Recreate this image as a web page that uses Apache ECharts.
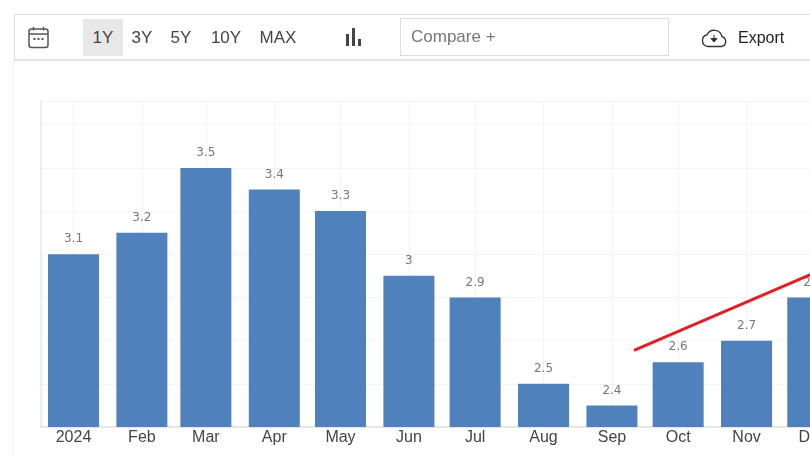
<!DOCTYPE html>
<html>
<head>
<meta charset="utf-8">
<title>Monthly values 2024</title>
<script src="https://cdn.jsdelivr.net/npm/echarts@6/dist/echarts.min.js"></script>
<style>
    html, body { margin: 0; width: 810px; height: 456px; overflow: hidden; background: #fff; font-family: "Liberation Sans", Arial, sans-serif; }
    #page-line { position: absolute; left: 13px; top: 59px; bottom: 0; width: 1px; background: #f3f3f3; }
    #toolbar { position: absolute; left: 14px; top: 14px; width: 830px; height: 44px; border: 1px solid #dfdfdf; border-bottom: 2px solid #e4e4e4; }
    #toolbar > * { position: absolute; }
    .range { top: 4px; height: 37px; line-height: 38px; font-size: 17px; color: #444; text-align: center; }
    .range.active { background: #e8e8e8; }
    #compare { left: 385px; top: 3px; width: 257px; height: 36px; border: 1px solid #ddd; line-height: 36px; font-size: 17px; color: #777; padding-left: 10px; }
    #export { left: 723px; top: 4px; line-height: 38px; font-size: 16px; color: #222; }
    #chart { position: absolute; left: 0; top: 0; width: 900px; height: 456px; }
</style>
</head>
<body>
<div id="chart"></div>
<div id="page-line"></div>
<div id="toolbar">
    <svg style="left:13px;top:11px" width="21" height="23" viewBox="0 0 21 23" fill="none" stroke="#555" stroke-width="1.5">
        <rect x="1" y="3" width="19" height="18.5" rx="2.5"/>
        <path d="M1 8h19M5.5 1v3.5M15.5 1v3.5"/>
        <path d="M5.5 13h2M9.5 13h2M13.5 13h2" stroke-width="2"/>
    </svg>
    <div class="range active" style="left:68px;width:40px">1Y</div>
    <div class="range" style="left:108px;width:38px">3Y</div>
    <div class="range" style="left:147px;width:38px">5Y</div>
    <div class="range" style="left:191px;width:40px">10Y</div>
    <div class="range" style="left:240px;width:46px">MAX</div>
    <svg style="left:331px;top:13px" width="16" height="18" viewBox="0 0 16 18" fill="#444">
        <rect x="0" y="6" width="3" height="12"/>
        <rect x="6" y="0" width="3" height="18"/>
        <rect x="12" y="11" width="3" height="7"/>
    </svg>
    <div id="compare">Compare +</div>
    <svg style="left:686px;top:13px" width="26" height="20" viewBox="0 0 26 20" fill="none" stroke="#333" stroke-width="1.4">
        <path d="M7 18.5h13a5 5 0 0 0 1-9.8 8 8 0 0 0-15-2A6 6 0 0 0 7 18.5z"/>
        <path d="M13 7v4.5M10 10.5h6l-3 3.5z" fill="#333" stroke-width="1"/>
    </svg>
    <div id="export">Export</div>
</div>
<script>
// Monthly readings, one bar per month start
const months = ['2024-01-01', '2024-02-01', '2024-03-01', '2024-04-01', '2024-05-01', '2024-06-01',
    '2024-07-01', '2024-08-01', '2024-09-01', '2024-10-01', '2024-11-01', '2024-12-01'];
const values = [3.1, 3.2, 3.5, 3.4, 3.3, 3, 2.9, 2.5, 2.4, 2.6, 2.7, 2.9];

// Red trend line drawn over the bars
const trendDates = ['2024-09-11', '2024-12-01'];
const trendValues = [2.655, 3.01];

const chart = echarts.init(document.getElementById('chart'));

chart.setOption({
    animation: false,
    grid: { left: 41, top: 101, width: 815, height: 326 },
    xAxis: {
        type: 'time',
        // echarts pads a time axis by half a bar each side, so these sit inside the grid edges
        min: new Date(2023, 11, 28, 20).getTime(),
        max: new Date(2024, 11, 9, 1).getTime(),
        splitNumber: 14,
        axisLine: { lineStyle: { color: '#e6e6e6', width: 2 } },
        axisTick: { show: false },
        splitLine: { show: true, lineStyle: { color: '#f3f3f3', width: 1 } },
        axisLabel: {
            color: '#444',
            fontSize: 16,
            fontFamily: 'Liberation Sans',
            margin: 3,
            showMinLabel: false,
            hideOverlap: false,
            formatter: function (value) {
                const d = new Date(value);
                return d.getMonth() === 0 ? String(d.getFullYear()) : echarts.time.format(value, '{MMM}', false);
            }
        }
    },
    yAxis: {
        type: 'value',
        min: 2.3,
        max: 3.81,
        interval: 0.2,
        axisLine: { show: true, lineStyle: { color: '#eeeeee', width: 2 } },
        axisTick: { show: false },
        axisLabel: { show: false },
        splitLine: { lineStyle: { color: '#f3f3f3', width: 1 } }
    },
    series: [
        {
            type: 'bar',
            barWidth: 51,
            data: months.map((m, i) => [m, values[i]]),
            itemStyle: { color: '#4f81bd' },
            label: {
                show: true,
                position: 'top',
                distance: 9,
                color: '#777',
                fontSize: 12,
                fontFamily: 'DejaVu Sans',
                formatter: p => String(p.value[1])
            }
        },
        {
            type: 'line',
            data: trendDates.map((d, i) => [d, trendValues[i]]),
            showSymbol: false,
            silent: true,
            lineStyle: { color: '#e21f26', width: 3 },
            z: 5
        }
    ]
});
</script>
</body>
</html>
